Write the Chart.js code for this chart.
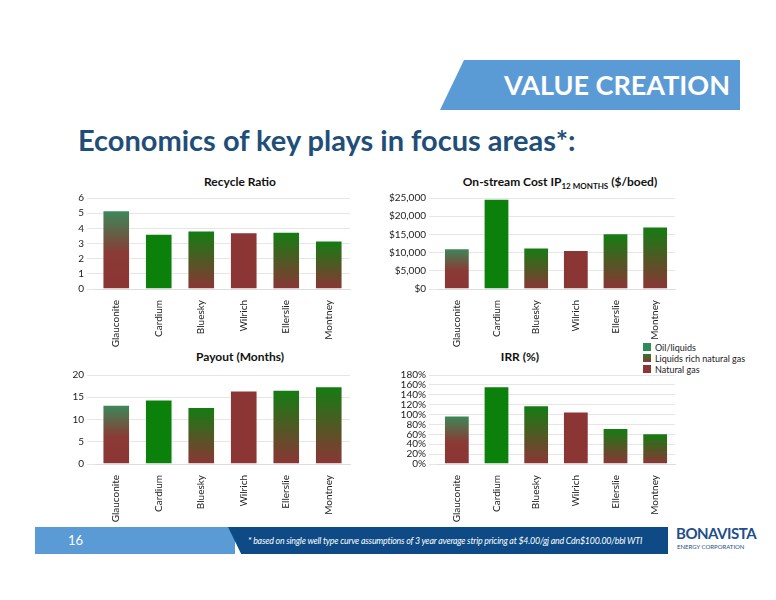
<!DOCTYPE html>
<html><head><meta charset="utf-8">
<script src="https://cdn.jsdelivr.net/npm/chart.js@4"></script>
<style>
body{margin:0;width:776px;height:600px;position:relative;background:#fff;font-family:Lato,"Open Sans",sans-serif;overflow:hidden}
.abs{position:absolute}
.ttl{position:absolute;font-size:12px;font-weight:bold;color:#111;text-align:center}
canvas{position:absolute}
</style></head><body>
<div class="abs" style="left:440px;top:60px;width:300px;height:50px;background:#5b9bd5;clip-path:polygon(8% 0,100% 0,100% 100%,0 100%)"></div>
<div class="abs" style="left:480px;top:68px;width:250px;font-size:27px;font-weight:bold;color:#fff;text-align:right">VALUE CREATION</div>
<div class="abs" style="left:78px;top:122px;font-size:29px;font-weight:bold;color:#1f4e79">Economics of key plays in focus areas*:</div>
<div class="ttl" style="left:130px;top:174px;width:220px">Recycle Ratio</div>
<div class="ttl" style="left:420px;top:174px;width:280px">On-stream Cost IP<sub style="font-size:8px">12 MONTHS</sub> ($/boed)</div>
<div class="ttl" style="left:130px;top:349px;width:220px">Payout (Months)</div>
<div class="ttl" style="left:420px;top:349px;width:200px">IRR (%)</div>
<div class="abs" style="left:643px;top:342px;font-size:9px;line-height:11px;color:#222">
<div><span style="display:inline-block;width:8px;height:8px;background:#2e8b57;margin-right:4px"></span>Oil/liquids</div>
<div><span style="display:inline-block;width:8px;height:8px;background:linear-gradient(#2f7a2f,#8b3a35);margin-right:4px"></span>Liquids rich natural gas</div>
<div><span style="display:inline-block;width:8px;height:8px;background:#8b3535;margin-right:4px"></span>Natural gas</div>
</div>
<canvas id="c1" style="left:68px;top:189px" width="290" height="160"></canvas>
<canvas id="c2" style="left:378px;top:189px" width="305" height="160"></canvas>
<canvas id="c3" style="left:68px;top:366px" width="290" height="158"></canvas>
<canvas id="c4" style="left:378px;top:366px" width="305" height="158"></canvas>
<div class="abs" style="left:35px;top:527px;width:200px;height:27px;background:#5b9bd5"></div>
<div class="abs" style="left:228px;top:527px;width:440px;height:27px;background:#0d4a86;clip-path:polygon(0 0,100% 0,100% 100%,3% 100%)"></div>
<div class="abs" style="left:68px;top:532px;color:#fff;font-size:13px">16</div>
<div class="abs" style="left:248px;top:535px;color:#fff;font-size:8.8px;font-style:italic;letter-spacing:-0.2px">* based on single well type curve assumptions of 3 year average strip pricing at $4.00/gj and Cdn$100.00/bbl WTI</div>
<div class="abs" style="left:676px;top:524px;color:#1f4e8c;font-size:15px;font-weight:bold;letter-spacing:-0.5px">BONAVISTA</div>
<div class="abs" style="left:677px;top:543px;color:#1f4e8c;font-size:6px">ENERGY CORPORATION</div>
<script>
const categories=["Glauconite","Cardium","Bluesky","Wilrich","Ellerslie","Montney"];
const types=["oil","green","lrg","gas","lrg","lrg"];
const recycleRatio=[5.2,3.65,3.85,3.75,3.78,3.2];
const onstreamCost=[11200,24800,11400,10700,15300,17200];
const payoutMonths=[13.3,14.5,12.8,16.5,16.7,17.5];
const irrPct=[98,157,119,106,73,62];
function fill(c){
  const ch=c.chart,t=types[c.dataIndex];
  if(t==="green")return "#0b800b";
  if(t==="gas")return "#8b3535";
  const y=ch.scales&&ch.scales.y;
  if(!y)return "#5a5a2a";
  const top=y.getPixelForValue(c.raw),bot=y.getPixelForValue(0);
  if(!isFinite(top)||!isFinite(bot)||top===bot)return "#5a5a2a";
  const g=ch.ctx.createLinearGradient(0,top,0,bot);
  if(t==="oil"){g.addColorStop(0,"#3a8a5a");g.addColorStop(0.55,"#8b3a35");g.addColorStop(1,"#8b3535");}
  else{g.addColorStop(0,"#137d12");g.addColorStop(1,"#8b3535");}
  return g;
}
function make(id,data,min,max,step,fmt,yw){
  new Chart(document.getElementById(id),{type:"bar",
    data:{labels:categories,datasets:[{data,backgroundColor:fill,borderColor:"rgba(255,255,255,0.4)",borderWidth:1,categoryPercentage:1,barPercentage:0.65}]},
    options:{responsive:false,animation:false,plugins:{legend:{display:false},tooltip:{enabled:false}},
      layout:{padding:{right:8,top:2}},
      scales:{x:{grid:{display:false},border:{color:"#ddd"},afterFit:s=>{s.height=60},ticks:{maxRotation:90,minRotation:90,color:"#222",font:{family:"Lato",size:10}}},
        y:{min,max,afterFit:s=>{s.width=yw},ticks:{stepSize:step,autoSkip:false,color:"#222",font:{family:"Lato",size:10},callback:fmt},grid:{color:"#e6e6e6"},border:{display:false}}}}});
}
make("c1",recycleRatio,0,6,1,v=>v,27);
make("c2",onstreamCost,0,25000,5000,v=>"$"+v.toLocaleString("en-US"),59);
make("c3",payoutMonths,0,20,5,v=>v,27);
make("c4",irrPct,0,180,20,v=>v+"%",59);
</script>
</body></html>
